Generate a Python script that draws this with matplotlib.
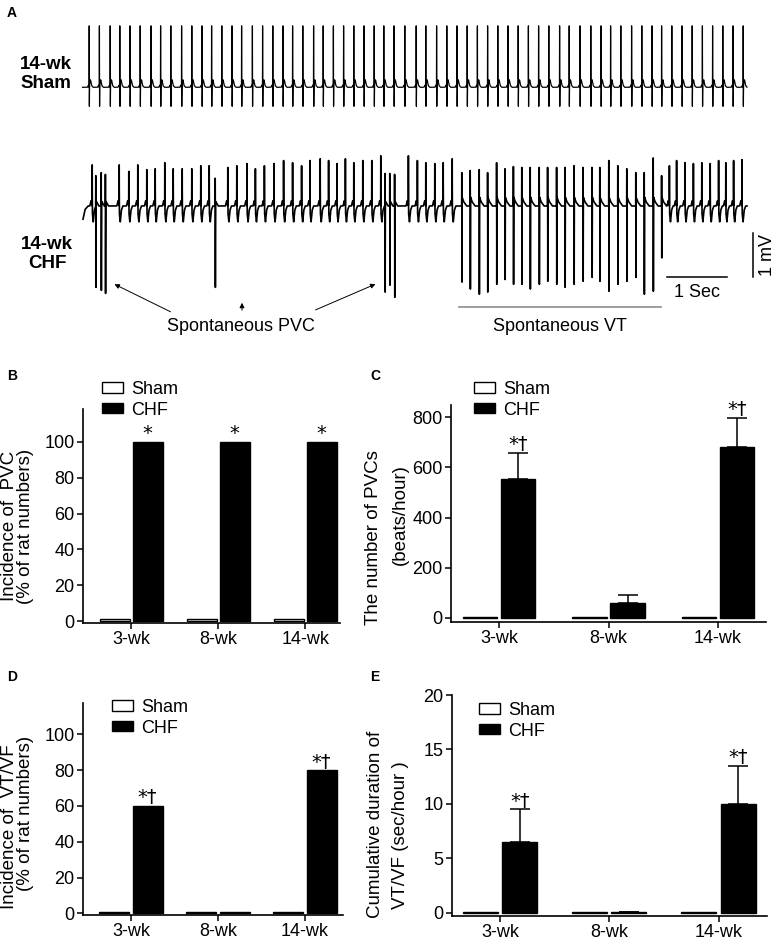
import numpy as np
import matplotlib
matplotlib.use('Agg')
import matplotlib.pyplot as plt
from matplotlib.patches import Patch

plt.rcParams['font.family'] = ['Liberation Sans', 'DejaVu Sans']

W, H = 780, 947

# ---------------- panel A: ECG traces (time in s, amplitude in mV) ----------------
sham_t = [0.12, 0.29, 0.47, 0.63, 0.80, 0.97, 1.15, 1.31, 1.48, 1.66, 1.83, 2.00, 2.16,
          2.33, 2.50, 2.66, 2.84, 3.01, 3.18, 3.35, 3.51, 3.68, 3.86, 4.02, 4.19, 4.36,
          4.53, 4.70, 4.87, 5.03, 5.20, 5.38, 5.57, 5.73, 5.91, 6.08, 6.25, 6.42, 6.59,
          6.76, 6.93, 7.10, 7.27, 7.44, 7.61, 7.78, 7.96, 8.12, 8.30, 8.48, 8.65, 8.81,
          8.98, 9.16, 9.33, 9.50, 9.66, 9.83, 10.00, 10.17, 10.34, 10.51, 10.68, 10.85, 11.02]
sham_r = 1.42
sham_s = 0.47

chf_t = [0.17, 0.23, 0.32, 0.39, 0.62, 0.78, 0.93, 1.08, 1.22, 1.38, 1.52, 1.67, 1.83,
         1.98, 2.12, 2.22, 2.43, 2.58, 2.75, 2.89, 3.04, 3.20, 3.36, 3.51, 3.66, 3.80,
         3.97, 4.11, 4.25, 4.39, 4.53, 4.68, 4.83, 4.98, 5.05, 5.13, 5.21, 5.44, 5.59,
         5.73, 5.88, 6.02, 6.17, 6.33, 6.47, 6.62, 6.76, 6.91, 7.05, 7.19, 7.33, 7.47,
         7.62, 7.76, 7.91, 8.05, 8.20, 8.35, 8.50, 8.63, 8.78, 8.93, 9.08, 9.23, 9.37,
         9.52, 9.66, 9.79, 9.91, 10.05, 10.19, 10.33, 10.47, 10.61, 10.73, 10.86, 11.00]
chf_r = [0.95, 0.70, 0.77, 0.73, 0.95, 0.80, 0.95, 0.84, 0.86, 1.00, 0.86, 0.86, 0.86,
         0.93, 0.93, 0.64, 0.89, 0.93, 0.98, 0.86, 0.93, 0.98, 1.05, 1.00, 0.93, 1.05,
         1.09, 1.05, 0.98, 1.09, 1.00, 1.05, 1.05, 1.16, 0.75, 0.75, 0.73, 1.16, 1.05,
         1.00, 0.98, 1.00, 1.09, 0.77, 0.82, 0.84, 0.77, 1.00, 0.86, 0.91, 0.89, 0.89,
         0.89, 0.89, 0.89, 0.89, 0.93, 0.89, 0.89, 0.89, 1.05, 0.93, 0.86, 0.77, 0.77,
         1.11, 0.70, 0.93, 1.05, 1.00, 0.98, 1.00, 0.98, 1.05, 1.00, 1.05, 1.07]
chf_s = [0.00, 1.91, 1.98, 2.05, 0.00, 0.00, 0.00, 0.00, 0.00, 0.00, 0.00, 0.00, 0.00,
         0.00, 0.00, 1.91, 0.00, 0.00, 0.00, 0.00, 0.00, 0.00, 0.00, 0.00, 0.00, 0.00,
         0.00, 0.00, 0.00, 0.00, 0.00, 0.00, 0.00, 0.00, 2.02, 1.86, 2.14, 0.00, 0.00,
         0.00, 0.00, 0.00, 0.00, 1.86, 2.02, 2.14, 2.09, 1.91, 1.80, 1.91, 1.91, 2.02,
         1.91, 1.84, 1.91, 1.98, 1.91, 1.84, 1.75, 1.84, 2.07, 1.91, 1.84, 1.75, 2.14,
         2.07, 1.30, 0.00, 0.00, 0.00, 0.00, 0.00, 0.00, 0.00, 0.00, 0.00, 0.00]
# n = sinus beat, p = PVC, v = VT beat
chf_kind = 'n' + 'ppp' + 'n' * 11 + 'p' + 'n' * 18 + 'ppp' + 'n' * 6 + 'v' * 24 + 'n' * 10

# beat shapes
spike_t = [-0.002, 0.0, 0.002]
spike_v = [0.0, 1.0, 0.0]
sham_wave_t = [-0.03, -0.012, -0.004, 0.0, 0.008, 0.022, 0.04, 0.065]
sham_wave_v = [0.0, 0.05, 0.0, 0.0, 0.08, 0.17, 0.04, 0.0]
wave_shapes = {
    'n': ([-0.04, -0.018, -0.006, 0.0, 0.004, 0.018, 0.035, 0.06],
          [0.0, 0.12, 0.03, 0.0, -0.18, -0.36, -0.1, 0.0]),
    'p': ([-0.01, 0.0, 0.01, 0.03, 0.05], [0.0, 0.0, 0.1, 0.05, 0.0]),
    'v': ([-0.01, 0.0, 0.006, 0.03, 0.08], [0.0, 0.0, 0.2, 0.1, 0.0]),
}

# ---------------- panels B-E: bar data ----------------
groups = ['3-wk', '8-wk', '14-wk']
pvc_inc_sham = [1, 1, 1]
pvc_inc_chf = [100, 100, 100]
pvc_num_sham = [5, 5, 5]
pvc_num_chf = [553, 60, 680]
pvc_num_chf_err = [104, 32, 116]
vt_inc_sham = [1, 1, 1]
vt_inc_chf = [60, 1, 80]
vt_dur_sham = [0.1, 0.1, 0.1]
vt_dur_chf = [6.5, 0.1, 10.0]
vt_dur_chf_err = [3.0, 0.0, 3.5]
marks_b = ['*', '*', '*']
marks_cde = ['*\u2020', '', '*\u2020']

FS = 13


def px2t(x):
    return (x - 82) / 60.0


def px2v(y):
    return -y / 44.0


def trace(tt, beats, r, s, kinds, wave=None):
    v = np.zeros_like(tt)
    for tb, rr, ss, k in zip(beats, r, s, kinds):
        v += rr * np.interp(tt - tb, spike_t, spike_v, left=0, right=0)
        v -= ss * np.interp(tt - tb - 0.003, spike_t, spike_v, left=0, right=0)
        wt, wv = wave if wave is not None else wave_shapes[k]
        v += np.interp(tt - tb, wt, wv, left=0, right=0)
    return v


fig = plt.figure(figsize=(W / 100, H / 100), dpi=100)

ax_a = fig.add_axes([0, 1 - 335 / H, 1, 335 / H])
ax_a.set_xlim(px2t(0), px2t(W))
ax_a.set_ylim(px2v(335), 0)
ax_a.axis('off')

tt = np.arange(px2t(82.5), px2t(747), 0.0001)
n_sham = len(sham_t)
v_sham = trace(tt, sham_t, [sham_r] * n_sham, [sham_s] * n_sham, 'n' * n_sham,
               wave=(sham_wave_t, sham_wave_v))
ax_a.plot(tt, v_sham + px2v(87.3), color='black', lw=0.9)

tt2 = np.arange(px2t(83), px2t(747), 0.0001)
v_chf = trace(tt2, chf_t, chf_r, chf_s, chf_kind)
v_chf += np.interp(tt2, [px2t(83), px2t(85), px2t(88)], [-0.3, -0.08, 0.0])
ax_a.plot(tt2, v_chf + px2v(206), color='black', lw=1.2)

fig.text(7 / W, 1 - 13 / H, 'A', fontsize=10, fontweight='bold', va='center')
fig.text(46 / W, 1 - 74 / H, '14-wk\nSham', fontsize=13.5, fontweight='bold',
         ha='center', va='center', linespacing=1.15)
fig.text(47 / W, 1 - 254 / H, '14-wk\nCHF', fontsize=13.5, fontweight='bold',
         ha='center', va='center', linespacing=1.15)

# arrows to the PVCs
arrow = dict(arrowstyle='-|>', color='black', lw=0.7, mutation_scale=7)
ax_a.annotate('', xy=(px2t(112), px2v(283)), xytext=(px2t(173), px2v(313)), arrowprops=arrow)
ax_a.annotate('', xy=(px2t(242), px2v(300)), xytext=(px2t(242), px2v(313)), arrowprops=arrow)
ax_a.annotate('', xy=(px2t(378), px2v(283)), xytext=(px2t(313), px2v(311)), arrowprops=arrow)
ax_a.text(px2t(241), px2v(326), 'Spontaneous PVC', fontsize=FS, ha='center', va='center')

# VT underline
ax_a.plot([px2t(459), px2t(661)], [px2v(307), px2v(307)], color='#8c8c8c', lw=1.2)
ax_a.text(px2t(560), px2v(326), 'Spontaneous VT', fontsize=FS, ha='center', va='center')

# scale bars: 1 s and 1 mV
ax_a.plot([px2t(667), px2t(667) + 1], [px2v(277), px2v(277)], color='black', lw=1.1)
ax_a.text(px2t(667) + 0.5, px2v(292), '1 Sec', fontsize=FS, ha='center', va='center')
ax_a.plot([px2t(753), px2t(753)], [px2v(277), px2v(277) + 1], color='black', lw=1.1)
ax_a.text(px2t(768), px2v(255), '1 mV', fontsize=FS, ha='center', va='center', rotation=90)


def bar_panel(box, xlim, ylim, yticks, sham, chf, chf_err, marks, leg_xy, half, width, capsize):
    left, right, top, bottom = box
    ax = fig.add_axes([left / W, 1 - bottom / H, (right - left) / W, (bottom - top) / H])
    x = np.arange(len(groups))
    ax.bar(x - half, sham, width, color='white', edgecolor='black', linewidth=1.0)
    ax.bar(x + half, chf, width, color='black', edgecolor='black', linewidth=1.0)
    tops = np.array(chf, dtype=float)
    if chf_err is not None:
        ax.errorbar(x + half, chf, yerr=[np.zeros(len(chf)), chf_err], fmt='none',
                    ecolor='black', elinewidth=1.1, capsize=capsize, capthick=1.1)
        tops = tops + np.array(chf_err)
    for xi, yi, m in zip(x + half, tops, marks):
        if m:
            ax.annotate(m, (xi, yi), xytext=(0, -1), textcoords='offset points',
                        ha='center', va='bottom', fontsize=14, family='DejaVu Sans')
    ax.set_xlim(*xlim)
    ax.set_ylim(*ylim)
    ax.set_yticks(yticks)
    ax.set_xticks(x)
    ax.set_xticklabels(groups)
    for sp in ['top', 'right']:
        ax.spines[sp].set_visible(False)
    for sp in ['left', 'bottom']:
        ax.spines[sp].set_linewidth(1.2)
    ax.tick_params(direction='out', length=4, width=1.1, labelsize=FS, pad=2)
    handles = [Patch(facecolor='white', edgecolor='black', label='Sham'),
               Patch(facecolor='black', edgecolor='black', label='CHF')]
    ax.legend(handles=handles, loc='upper left',
              bbox_to_anchor=(leg_xy[0] / W, 1 - leg_xy[1] / H), bbox_transform=fig.transFigure,
              frameon=False, fontsize=FS, handlelength=1.15, handleheight=0.5,
              handletextpad=0.45, labelspacing=0.2, borderpad=0, borderaxespad=0)
    return ax


# B: incidence of PVC
bar_panel((83, 340, 409, 623), (-0.557, 2.397), (-1.1, 118.4), [0, 20, 40, 60, 80, 100],
          pvc_inc_sham, pvc_inc_chf, None, marks_b, (102, 381), 0.187, 0.34, 7)
# C: number of PVCs
bar_panel((451, 766, 405, 622), (-0.438, 2.438), (-16, 848), [0, 200, 400, 600, 800],
          pvc_num_sham, pvc_num_chf, pvc_num_chf_err, marks_cde, (474, 381), 0.174, 0.315, 7.2)
# D: incidence of VT/VF
bar_panel((83, 343, 703, 915), (-0.552, 2.437), (-0.95, 117.5), [0, 20, 40, 60, 80, 100],
          vt_inc_sham, vt_inc_chf, None, marks_cde, (112, 699), 0.19, 0.345, 7)
# E: cumulative duration of VT/VF
bar_panel((452, 767, 695, 916), (-0.439, 2.443), (-0.3, 20), [0, 5, 10, 15, 20],
          vt_dur_sham, vt_dur_chf, vt_dur_chf_err, marks_cde, (479, 702), 0.18, 0.32, 7.5)

# panel letters
for lab, x, y in [('B', 7, 376), ('C', 370, 376), ('D', 7, 677), ('E', 370, 677)]:
    fig.text(x / W, 1 - y / H, lab, fontsize=10, fontweight='bold', va='center')

# y-axis titles (two lines each)
ylab = [('Incidence of  PVC', 9.5, 526), ('(% of rat numbers)', 25.5, 526),
        ('The number of PVCs', 374, 538), ('(beats/hour)', 400.5, 515),
        ('Incidence of  VT/VF', 9.5, 827), ('(% of rat numbers)', 25.5, 813),
        ('Cumulative duration of', 375, 824), ('VT/VF (sec/hour )', 400.5, 835)]
for txt, x, y in ylab:
    fig.text(x / W, 1 - y / H, txt, rotation=90, fontsize=13.5, ha='center', va='center')

fig.savefig('out.png', dpi=100)
